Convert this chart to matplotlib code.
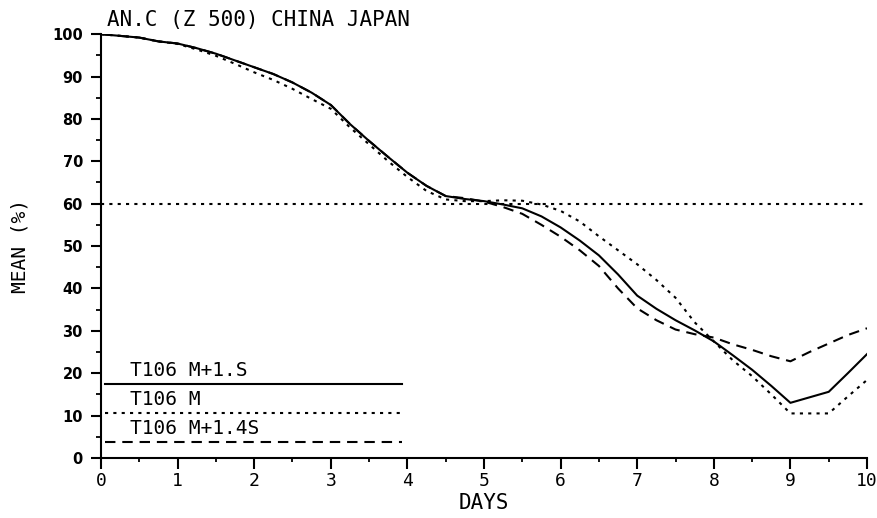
# coding: utf-8

# Imports
import matplotlib
matplotlib.use("Agg")
import matplotlib.pyplot as plt
import numpy as np


# Data (days, anomaly correlation in %)
days = np.arange(0, 10.01, 0.25)

t106_m_1s = [100.0, 99.6, 99.2, 98.3, 97.8, 96.7, 95.4, 93.8, 92.2, 90.6,
             88.6, 86.2, 83.3, 78.8, 74.8, 71.0, 67.3, 64.2, 61.8, 61.1,
             60.6, 59.8, 58.9, 57.0, 54.4, 51.3, 47.8, 43.3, 38.3, 35.2,
             32.5, 30.1, 27.5, 24.2, 20.8, 17.0, 13.0, 14.3, 15.6, 20.0, 24.5]

t106_m = [100.0, 99.6, 99.2, 98.3, 97.7, 96.4, 94.9, 93.0, 91.0, 89.2,
          87.1, 84.7, 82.4, 78.0, 74.0, 70.0, 66.3, 63.0, 61.0, 60.6,
          60.6, 60.8, 60.7, 59.8, 58.3, 55.8, 52.3, 49.0, 45.7, 42.0,
          37.8, 32.0, 27.5, 23.0, 19.3, 15.0, 10.5, 10.5, 10.5, 14.5, 18.4]

t106_m_14s = [100.0, 99.6, 99.2, 98.3, 97.8, 96.7, 95.4, 93.8, 92.2, 90.6,
              88.6, 86.2, 83.3, 78.8, 74.8, 71.0, 67.3, 64.2, 61.8, 61.3,
              60.5, 59.2, 57.6, 55.0, 52.2, 49.0, 45.3, 40.0, 35.3, 32.5,
              30.3, 29.2, 28.4, 26.8, 25.5, 24.0, 22.8, 25.0, 27.0, 29.0, 30.6]

threshold = 60
labels = ["T106 M+1.S", "T106 M", "T106 M+1.4S"]

# Styles
mono = "DejaVu Sans Mono"
dotted = (0, (1.5, 2.5))
dashed = (0, (5, 3.3))
lw = 1.5

# Plot
fig = plt.figure(figsize=(8.78, 5.18), dpi=100, facecolor='white')
ax = fig.add_axes([0.115, 0.116, 0.8725, 0.818])

ax.axhline(threshold, color="black", lw=lw, linestyle=dotted)
ax.plot(days, t106_m_1s, color="black", lw=lw, linestyle="-")
ax.plot(days, t106_m, color="black", lw=lw, linestyle=dotted)
ax.plot(days, t106_m_14s, color="black", lw=lw, linestyle=dashed)

# Hand drawn legend in the lower left corner
key_y = [17.4, 10.7, 3.8]
key_styles = ["-", dotted, dashed]
for lab, yk, st in zip(labels, key_y, key_styles):
    ax.plot([0.05, 3.93], [yk, yk], color="black", lw=lw, linestyle=st)
    ax.text(0.38, yk + 3.2, lab, fontsize=14, family=mono, va="center", ha="left")

ax.set_xlim(0, 10)
ax.set_ylim(0, 100)
ax.set_xticks(np.arange(0, 11, 1))
ax.set_xticks(np.arange(0.5, 10, 1), minor=True)
ax.set_yticks(np.arange(0, 101, 10))
ax.set_yticks(np.arange(5, 100, 10), minor=True)

for s in ["top", "right"]:
    ax.spines[s].set_visible(False)
for s in ["left", "bottom"]:
    ax.spines[s].set_linewidth(1.5)

ax.tick_params(axis="y", which="major", direction="out", length=7, width=1.5, pad=6)
ax.tick_params(axis="y", which="minor", direction="out", length=3.5, width=1.3)
ax.tick_params(axis="x", which="major", direction="out", length=8, width=1.5, pad=2)
ax.tick_params(axis="x", which="minor", direction="out", length=3, width=1.3)

for t in ax.get_yticklabels():
    t.set_fontfamily("DejaVu Sans")
    t.set_fontweight("bold")
    t.set_fontsize(10.5)
for t in ax.get_xticklabels():
    t.set_fontfamily(mono)
    t.set_fontsize(13)

ax.set_xlabel("DAYS", fontsize=15, family=mono, labelpad=2)
ax.set_ylabel("MEAN (%)", fontsize=14, family=mono, labelpad=16)
fig.text(107 / 878, 1 - 20 / 518, "AN.C (Z 500) CHINA JAPAN", fontsize=15,
         family=mono, va="center", ha="left")

fig.savefig("out.png", dpi=100)
